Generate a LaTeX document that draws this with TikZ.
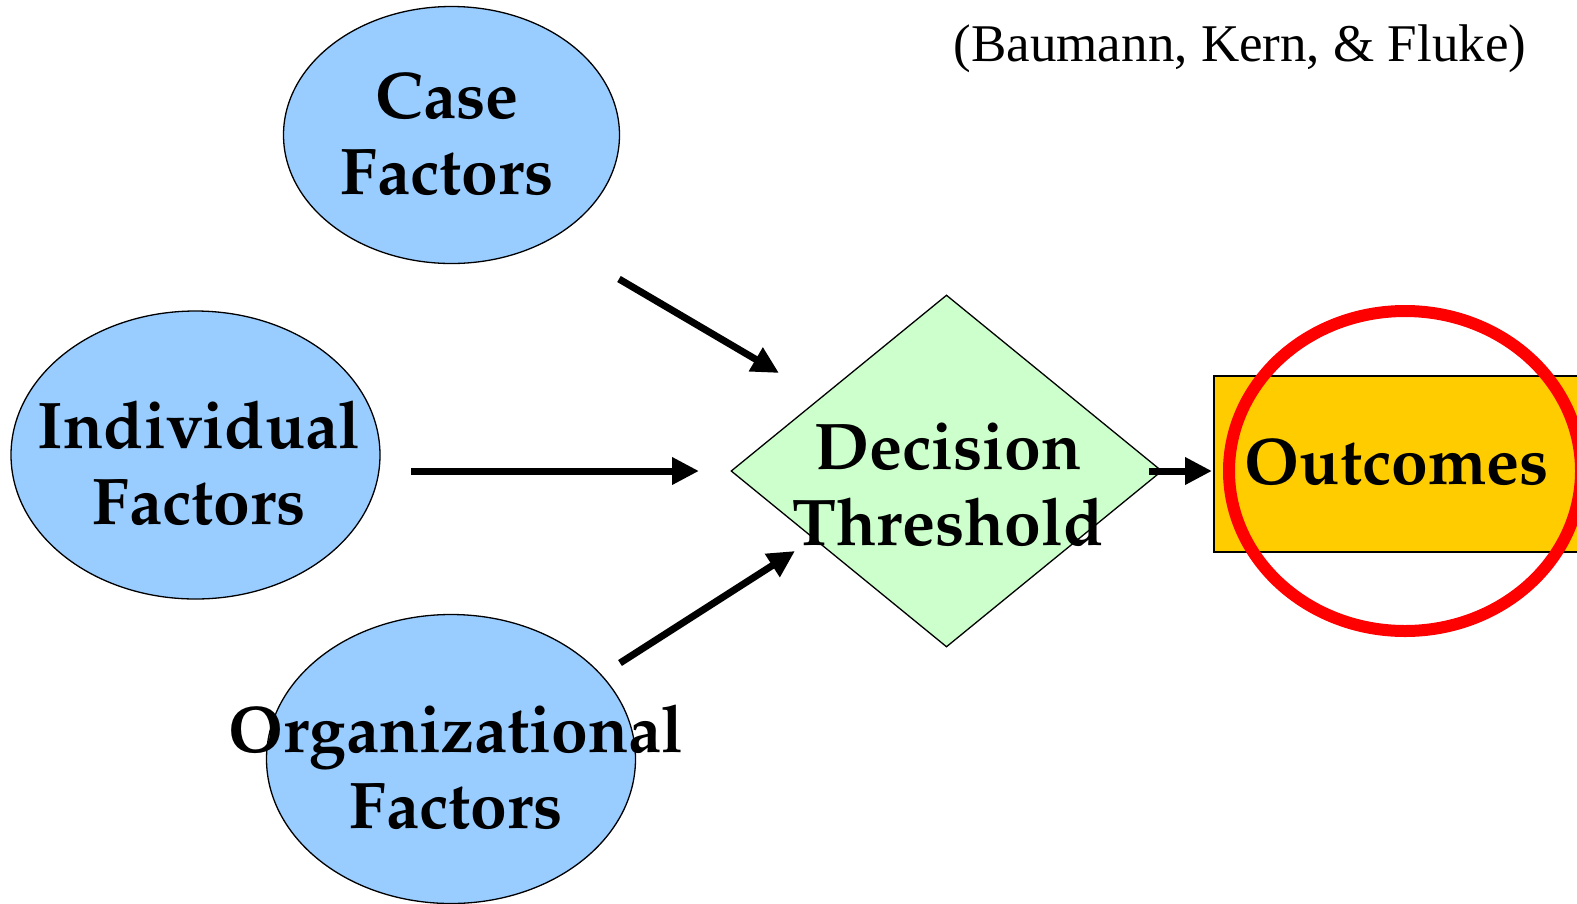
\documentclass[tikz,border=0pt]{standalone}
\usepackage[T1]{fontenc}
\usepackage{fontspec}
\setmainfont{Liberation Serif}
\usetikzlibrary{shapes.geometric,arrows.meta}
\newcommand\palbf{\fontencoding{T1}\fontfamily{ppl}\fontseries{b}\fontshape{n}\fontsize{66}{76}\selectfont}
\definecolor{factorblue}{HTML}{99CCFF}
\definecolor{decgreen}{HTML}{CCFFCC}
\definecolor{outgold}{HTML}{FFCC00}
\tikzset{
  factor/.style={ellipse, draw=black, line width=1.3pt, fill=factorblue, inner sep=0pt},
  lbl/.style={align=center, font=\palbf, inner sep=0pt},
  flow/.style={line width=7pt, -{Triangle[length=27pt,width=26pt]}},
}
\begin{document}
\begin{tikzpicture}[x=1pt,y=-1pt]
\useasboundingbox (0,0) rectangle (1577,903);
% factors
\node[factor, minimum width=336pt, minimum height=257pt] (case) at (451.5,135) {};
\node[factor, minimum width=369pt, minimum height=288pt] (indiv) at (195.5,455) {};
\node[factor, minimum width=369pt, minimum height=289pt] (org) at (451,759) {};
\node[lbl] (caset) at (447,134) {Case\\Factors};
\node[lbl] (indivt) at (199,463) {Individual\\Factors};
\node[lbl] (orgt) at (456,767) {Organizational\\Factors};
% decision
\node[diamond, draw=black, line width=1.3pt, fill=decgreen, inner sep=0pt,
      minimum width=431pt, minimum height=352pt] (dec) at (946.5,471) {};
\node[lbl] (dect) at (948,485) {Decision\\Threshold};
% outcomes
\node[draw=black, line width=2pt, fill=outgold, anchor=north west,
      minimum width=400pt, minimum height=176pt, inner sep=0pt] (out) at (1213,375) {};
\node[lbl] (outt) at (1397,462) {Outcomes};
\node[ellipse, draw=red, line width=12pt, minimum width=352pt, minimum height=320pt, inner sep=0pt] (ring) at (1405,471) {};
% citation
\node[anchor=base, font=\fontsize{53}{60}\selectfont, inner sep=0pt] (cite) at (1240,61) {(Baumann, Kern, \& Fluke)};
% arrow end points
\coordinate (a1s) at (619,279);
\coordinate (a1e) at (779,373);
\coordinate (a2s) at (411,471);
\coordinate (a2e) at (699,471);
\coordinate (a3s) at (620,663);
\coordinate (a3e) at (795,551);
\coordinate (a4s) at (1149,471);
\coordinate (a4e) at (1212,471);
\draw[flow] (a1s) -- (a1e);
\draw[flow] (a2s) -- (a2e);
\draw[flow] (a3s) -- (a3e);
\draw[flow] (a4s) -- (a4e);
\end{tikzpicture}
\end{document}
